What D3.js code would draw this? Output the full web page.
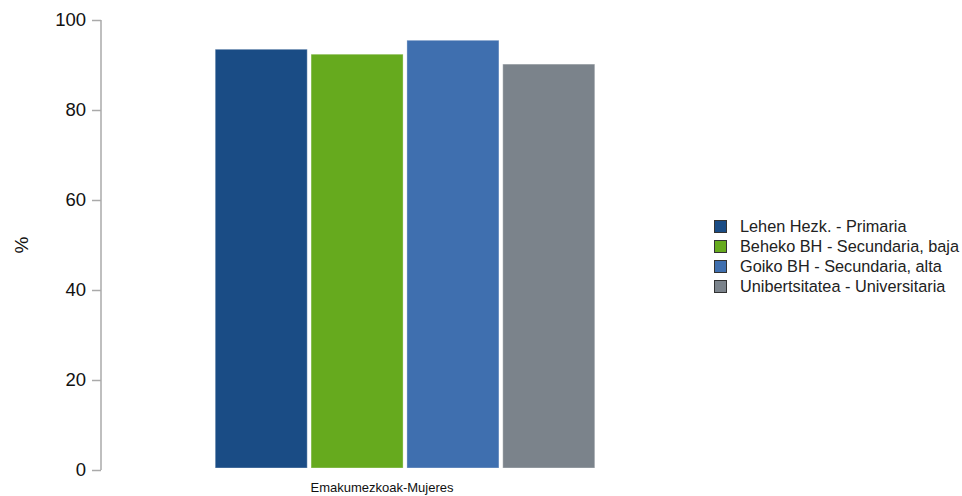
<!DOCTYPE html>
<html><head><meta charset="utf-8">
<script src="https://cdn.jsdelivr.net/npm/d3@7"></script>
<style>body{margin:0;background:#fff}svg{display:block;font-family:"Liberation Sans",Arial,sans-serif}</style>
</head><body><svg id="c" width="962" height="496"></svg>
<script>
const categories = ["Emakumezkoak-Mujeres"];
const seriesNames = ["Lehen Hezk. - Primaria","Beheko BH - Secundaria, baja","Goiko BH - Secundaria, alta","Unibertsitatea - Universitaria"];
const seriesValues = [93.5, 92.4, 95.5, 90.2];
const seriesColors = ["#1a4c85","#66aa1e","#3f6faf","#7b838b"];
const yTicks = [0,20,40,60,80,100];

const svg = d3.select("#c");
const y = d3.scaleLinear().domain([0,100]).range([470,20]);
const x = d3.scaleBand().domain(categories).range([101,709]).paddingInner(0).paddingOuter(0.285);
const xs = d3.scaleBand().domain(seriesNames).range([x(categories[0]), x(categories[0])+x.bandwidth()]).padding(0.04);

const ax = svg.append("g").attr("transform","translate(101,0)")
  .call(d3.axisLeft(y).tickValues(yTicks).tickSize(9).tickPadding(6));
ax.select(".domain").attr("stroke","#aaa").attr("stroke-width",1.5).attr("d","M0,20V470");
ax.selectAll(".tick line").attr("stroke","#aaa").attr("stroke-width",1.5);
ax.selectAll(".tick text").attr("font-size",18.5).attr("fill","#111").attr("font-family","Liberation Sans, Arial");

svg.append("text").attr("transform","translate(28,245) rotate(-90)").attr("text-anchor","middle")
  .attr("font-size",19).attr("fill","#111").text("%");

const g = svg.append("g");
categories.forEach((c) => {
  g.selectAll("rect.bar").data(seriesValues).enter().append("rect")
    .attr("x",(d,i)=>xs(seriesNames[i]))
    .attr("y",d=>y(d))
    .attr("width",xs.bandwidth())
    .attr("height",d=>y(0)-2-y(d))
    .attr("fill",(d,i)=>seriesColors[i])
    .attr("stroke","rgba(255,255,255,0.35)").attr("stroke-width",1);
  svg.append("text").attr("x",382).attr("y",492).attr("text-anchor","middle")
    .attr("font-size",13).attr("fill","#111").text(c);
});

const lg = svg.append("g").attr("transform","translate(714,220)");
seriesNames.forEach((n,i)=>{
  const r = lg.append("g").attr("transform",`translate(0,${i*20})`);
  r.append("rect").attr("x",0.5).attr("y",0.5).attr("width",12).attr("height",12)
    .attr("fill",seriesColors[i]).attr("stroke","#333").attr("stroke-width",1);
  r.append("text").attr("x",26).attr("y",12).attr("font-size",16.3).attr("fill","#222").text(n);
});
</script></body></html>
